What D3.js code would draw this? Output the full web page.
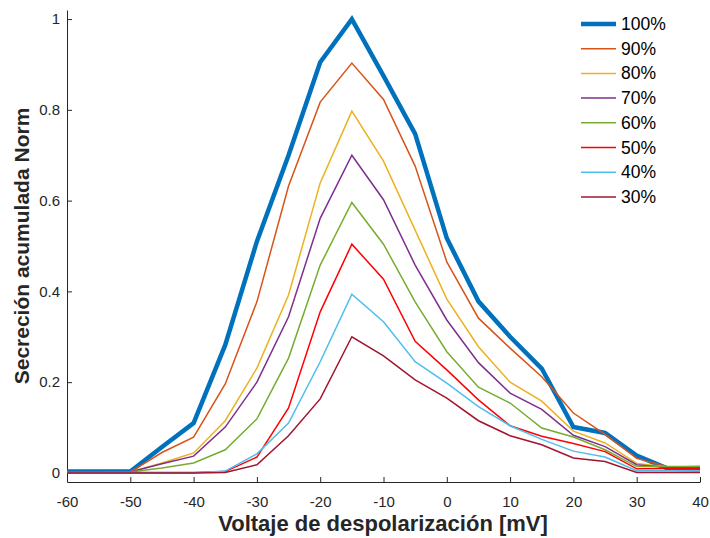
<!DOCTYPE html>
<html>
<head>
<meta charset="utf-8">
<script src="https://cdn.jsdelivr.net/npm/d3@7"></script>
<style>
  body { margin: 0; background: #fff; }
  text { font-family: "Liberation Sans", Arial, sans-serif; }
</style>
</head>
<body>
<svg width="710" height="538"></svg>
<script>
// voltaje (mV)
var voltages = [-60, -55, -50, -45, -40, -35, -30, -25, -20, -15, -10, -5, 0, 5, 10, 15, 20, 25, 30, 35, 40];

var labels = ["100%", "90%", "80%", "70%", "60%", "50%", "40%", "30%"];
var colors = ["#0072BD", "#D95319", "#EDB120", "#7E2F8E", "#77AC30", "#FF0000", "#4DBEEE", "#A2142F"];

var s100 = [0.003, 0.003, 0.003, 0.057, 0.110, 0.282, 0.510, 0.700, 0.905, 1.000, 0.875, 0.747, 0.517, 0.378, 0.300, 0.230, 0.101, 0.088, 0.038, 0.009, 0.008];
var s90  = [0.002, 0.002, 0.002, 0.045, 0.079, 0.196, 0.377, 0.632, 0.817, 0.903, 0.823, 0.676, 0.465, 0.341, 0.275, 0.212, 0.132, 0.085, 0.032, 0.013, 0.014];
var s80  = [0.001, 0.001, 0.002, 0.022, 0.044, 0.115, 0.231, 0.392, 0.639, 0.797, 0.687, 0.535, 0.383, 0.278, 0.200, 0.158, 0.092, 0.066, 0.021, 0.013, 0.014];
var s70  = [0.001, 0.001, 0.002, 0.020, 0.037, 0.101, 0.200, 0.344, 0.561, 0.700, 0.602, 0.458, 0.337, 0.243, 0.176, 0.140, 0.083, 0.058, 0.018, 0.012, 0.012];
var s60  = [0.001, 0.001, 0.002, 0.011, 0.022, 0.051, 0.119, 0.253, 0.458, 0.596, 0.504, 0.377, 0.267, 0.189, 0.154, 0.099, 0.079, 0.051, 0.014, 0.014, 0.014];
var s50  = [0.001, 0.001, 0.001, 0.001, 0.001, 0.003, 0.035, 0.143, 0.355, 0.504, 0.427, 0.290, 0.227, 0.161, 0.104, 0.081, 0.065, 0.047, 0.009, 0.010, 0.010];
var s40  = [0.000, 0.000, 0.000, 0.000, 0.000, 0.004, 0.042, 0.110, 0.245, 0.394, 0.333, 0.245, 0.198, 0.146, 0.104, 0.074, 0.048, 0.035, 0.005, 0.005, 0.005];
var s30  = [0.000, 0.000, 0.000, 0.000, 0.000, 0.001, 0.018, 0.082, 0.163, 0.300, 0.258, 0.205, 0.165, 0.115, 0.082, 0.062, 0.033, 0.025, 0.001, 0.001, 0.001];

var xTicks = [-60, -50, -40, -30, -20, -10, 0, 10, 20, 30, 40];
var yTicks = [0, 0.2, 0.4, 0.6, 0.8, 1];

var series = [s100, s90, s80, s70, s60, s50, s40, s30];

var svg = d3.select("svg");
var axisColor = "#262626";

var x = d3.scaleLinear().domain([-60, 40]).range([67, 700]);
var y = d3.scaleLinear().domain([-0.02, 1.02]).range([482, 10]);

// ejes
var gx = svg.append("g")
    .attr("transform", "translate(0,482)")
    .call(d3.axisBottom(x).tickValues(xTicks).tickSizeInner(-5).tickSizeOuter(0).tickPadding(14)
      .tickFormat(function(d) { return d; }));
var gy = svg.append("g")
    .attr("transform", "translate(67,0)")
    .call(d3.axisLeft(y).tickValues(yTicks).tickSizeInner(-5).tickSizeOuter(0).tickPadding(12)
      .tickFormat(function(d) { return d; }));

[gx, gy].forEach(function(g) {
  g.select(".domain").attr("stroke", axisColor).attr("stroke-width", 1);
  g.selectAll(".tick line").attr("stroke", axisColor);
  g.selectAll(".tick text").attr("fill", axisColor).style("font-size", "15px")
    .style("font-family", "'Liberation Sans', Arial, sans-serif");
});
gy.selectAll(".tick text").attr("x", -7);

// lineas
var line = d3.line()
    .x(function(d, i) { return x(voltages[i]); })
    .y(function(d) { return y(d); });

series.forEach(function(s, k) {
  svg.append("path")
      .datum(s)
      .attr("fill", "none")
      .attr("stroke", colors[k])
      .attr("stroke-width", k == 0 ? 4.5 : 1.5)
      .attr("stroke-linejoin", "miter")
      .attr("d", line);
});

// titulos
svg.append("text")
    .attr("x", 383)
    .attr("y", 531)
    .attr("text-anchor", "middle")
    .attr("fill", axisColor)
    .style("font-size", "22px")
    .style("font-weight", "bold")
    .text("Voltaje de despolarización [mV]");

svg.append("text")
    .attr("transform", "translate(29,246) rotate(-90)")
    .attr("text-anchor", "middle")
    .attr("fill", axisColor)
    .style("font-size", "21px")
    .style("font-weight", "bold")
    .text("Secreción acumulada Norm");

// leyenda
var legend = svg.append("g");
labels.forEach(function(lab, k) {
  var ly = 24 + k * 24.7;
  legend.append("line")
      .attr("x1", 581).attr("x2", 616)
      .attr("y1", ly).attr("y2", ly)
      .attr("stroke", colors[k])
      .attr("stroke-width", k == 0 ? 4.5 : 1.5);
  legend.append("text")
      .attr("x", 621)
      .attr("y", ly + 6)
      .attr("fill", "#000")
      .style("font-size", "17.5px")
      .text(lab);
});
</script>
</body>
</html>
